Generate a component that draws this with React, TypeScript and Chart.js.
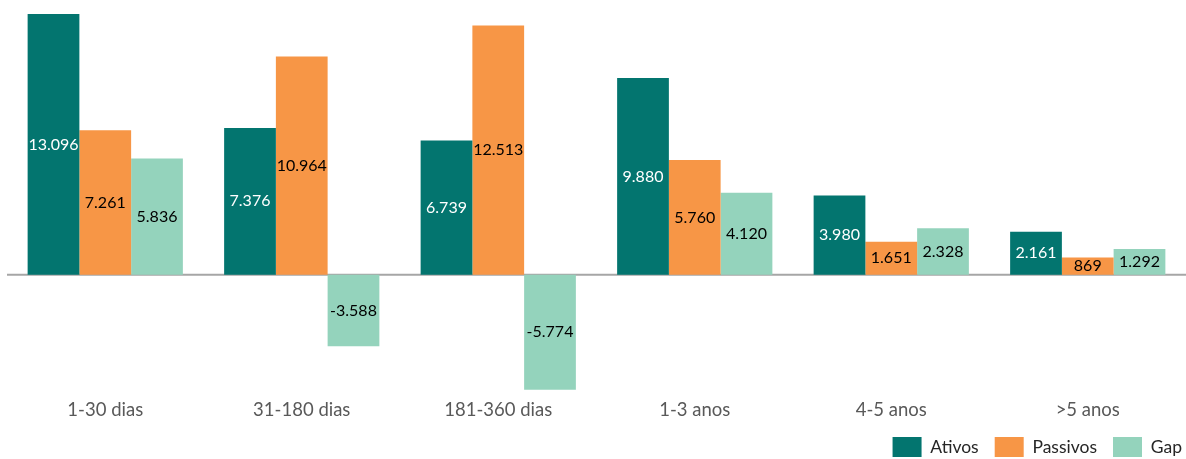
import React, { useEffect, useRef } from "react";
import { Chart, registerables } from "chart.js";

Chart.register(...registerables);

const categories = ["1-30 dias", "31-180 dias", "181-360 dias", "1-3 anos", "4-5 anos", ">5 anos"];
const ativos = [13096, 7376, 6739, 9880, 3980, 2161];
const passivos = [7261, 10964, 12513, 5760, 1651, 869];
const gap = [5836, -3588, -5774, 4120, 2328, 1292];

const FONT = "Lato, 'Open Sans', sans-serif";

const fmt = (v: number) => {
  const s = Math.abs(Math.round(v)).toString().replace(/\B(?=(\d{3})+(?!\d))/g, ".");
  return (v < 0 ? "-" : "") + s;
};

const zeroLinePlugin = {
  id: "zeroLine",
  afterLayout(chart: any) {
    if (chart.legend) {
      chart.legend.left += 7;
      chart.legend.right += 7;
    }
  },
  beforeDatasetsDraw(chart: any) {
    const { ctx, chartArea, scales } = chart;
    const y = scales.y.getPixelForValue(0);
    ctx.save();
    ctx.strokeStyle = "#A6A6A6";
    ctx.lineWidth = 2;
    ctx.beginPath();
    ctx.moveTo(chartArea.left, y);
    ctx.lineTo(chartArea.right, y);
    ctx.stroke();
    ctx.restore();
  },
};

const labelPlugin = {
  id: "barLabels",
  afterDatasetsDraw(chart: any) {
    const ctx = chart.ctx;
    ctx.save();
    ctx.font = `16px ${FONT}`;
    ctx.textAlign = "center";
    ctx.textBaseline = "middle";
    chart.data.datasets.forEach((ds: any, i: number) => {
      const meta = chart.getDatasetMeta(i);
      meta.data.forEach((bar: any, j: number) => {
        const v = ds.data[j];
        const y = (bar.y + bar.base) / 2;
        ctx.fillStyle = i === 0 ? "#FFFFFF" : "#000000";
        ctx.fillText(fmt(v), bar.x, y);
      });
    });
    ctx.restore();
  },
};

export default function App() {
  const ref = useRef<HTMLCanvasElement>(null);
  useEffect(() => {
    if (!ref.current) return;
    const chart = new Chart(ref.current, {
      type: "bar",
      data: {
        labels: categories,
        datasets: [
          { label: "Ativos", data: ativos, backgroundColor: "#03756F" },
          { label: "Passivos", data: passivos, backgroundColor: "#F79646" },
          { label: "Gap", data: gap, backgroundColor: "#94D3BC" },
        ],
      },
      options: {
        animation: false,
        responsive: true,
        maintainAspectRatio: false,
        layout: { padding: { left: 7, right: -5, top: 0, bottom: -8 } },
        datasets: { bar: { categoryPercentage: 0.79, barPercentage: 1 } },
        scales: {
          x: {
            grid: { display: false, drawTicks: false },
            border: { display: false },
            ticks: { color: "#595959", font: { family: FONT, size: 18.5 }, padding: 0 },
          },
          y: {
            display: false,
            min: -6234,
            max: 13800,
          },
        },
        plugins: {
          legend: {
            position: "bottom",
            align: "end",
            labels: {
              boxWidth: 29,
              boxHeight: 20,
              padding: 16,
              color: "#262626",
              font: { family: FONT, size: 17.5 },
            },
          },
          tooltip: { enabled: false },
        },
      },
      plugins: [zeroLinePlugin, labelPlugin],
    });
    return () => chart.destroy();
  }, []);
  return (
    <div style={{ position: "absolute", left: 0, top: 0, width: 1186, height: 459 }}>
      <canvas ref={ref} />
    </div>
  );
}
